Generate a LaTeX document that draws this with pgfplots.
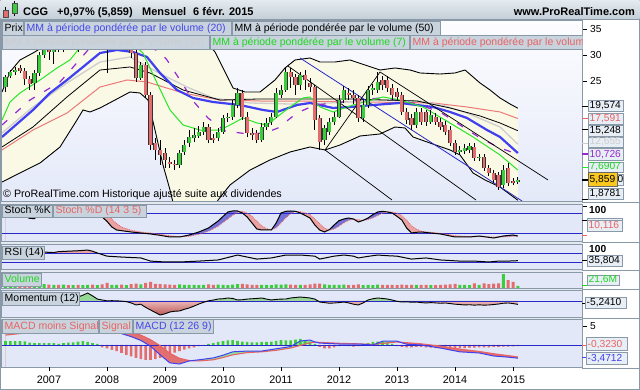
\documentclass[border=0pt]{standalone}
\usepackage{pgfplots}
\pgfplotsset{compat=1.18}
\usepackage{pgfplotstable}
\usepackage{fontspec}
\setmainfont{Liberation Sans}

\definecolor{cgreen}{RGB}{60,205,60}
\definecolor{cred}{RGB}{228,108,108}
\definecolor{bord}{RGB}{138,153,168}
\definecolor{tabfill}{RGB}{200,211,221}
\definecolor{gapfill}{RGB}{228,233,239}
\definecolor{panelbg}{RGB}{226,232,248}
\definecolor{maintop}{RGB}{253,253,255}
\definecolor{mainbot}{RGB}{228,233,249}
\definecolor{hdrtop}{RGB}{228,234,239}
\definecolor{hdrbot}{RGB}{196,207,216}
\definecolor{bbfill}{RGB}{249,249,230}
\definecolor{vblue}{RGB}{64,64,240}
\definecolor{vgray}{RGB}{205,205,205}
\definecolor{vred}{RGB}{236,120,120}
\definecolor{vgreen}{RGB}{40,230,40}
\definecolor{vpurple}{RGB}{150,40,210}
\definecolor{lineblue}{RGB}{40,40,200}
\definecolor{tabblue}{RGB}{70,70,235}
\definecolor{tabgreen}{RGB}{30,215,30}
\definecolor{tabred}{RGB}{232,100,100}
\definecolor{tabgray}{RGB}{205,205,205}
\definecolor{labbox}{RGB}{232,238,245}
\definecolor{yel}{RGB}{250,200,30}
\definecolor{stfillb}{RGB}{115,115,215}
\definecolor{stfillr}{RGB}{234,162,162}
\definecolor{mfillg}{RGB}{150,215,150}
\definecolor{mfillrt}{RGB}{236,182,182}
\definecolor{mfillrb}{RGB}{186,88,88}
\definecolor{macdg}{RGB}{140,225,160}
\definecolor{macdr}{RGB}{226,112,112}

\newcommand\tabf{\fontsize{10.5}{12}\selectfont}
\newcommand\labf{\fontsize{10.2}{12}\selectfont}
\newcommand\hdrf{\fontsize{11}{13}\selectfont\bfseries}
\newcommand\yrf{\fontsize{10.8}{13}\selectfont}

\newcommand\tab[6]{%
  \filldraw[fill=tabfill,draw=bord,line width=0.6pt] (#1,#2) rectangle (#3,#4);
  \node[anchor=base west,inner sep=0pt,text=#5,font=\tabf] at (#1+2.5,#2+3.6) {#6};}
\newcommand\lbox[6]{%
  \filldraw[fill=labbox,draw=bord,line width=0.6pt] (#1,#2) rectangle (#3,#4);
  \node[anchor=base west,inner sep=0pt,text=#5,font=\labf] at (#1+1.5,#2+2.2) {#6};}

\pgfplotsset{prt/.style={scale only axis, width=581pt, xmin=-9.931, xmax=110.276,
  anchor=south west, axis line style={draw=none}, xtick=\empty, ytick=\empty, clip=true,
  axis background/.style={fill=panelbg}}}

% monthly candles, m = months since Jan 2007 ; o h l c in EUR ; v volume (M)
\pgfplotstableread{
m o h l c v
-9 23.65 25.96 22.69 25.58 32
-8 25.77 26.92 25.38 26.54 30
-7 26.54 27.50 25.96 26.92 34
-3 24.42 26.92 23.08 26.35 38
-2 26.35 30.38 25.77 29.81 45
-1 29.81 31.73 29.23 31.15 42
1 30.38 32.12 28.08 31.54 33
3 30.96 32.69 30.38 31.92 36
5 31.35 33.08 30.77 32.31 32
7 31.73 33.46 31.15 32.69 30
8 32.69 34.04 31.92 33.27 34
10 32.50 34.23 31.92 33.46 31
13 31.54 33.08 30.77 32.31 35
14 32.31 33.65 31.15 32.88 33
16 31.92 33.27 31.15 32.69 32
19 25.38 28.46 25.00 27.88 40
27 8.65 11.54 8.08 10.96 38
28 11.15 13.46 10.58 12.50 35
29 12.88 15.38 12.12 14.04 33
30 13.85 15.77 13.08 14.42 34
31 14.23 16.15 13.85 15.00 32
32 15.00 16.92 14.42 15.96 35
35 13.85 15.77 13.27 15.00 36
36 15.00 18.27 14.62 17.69 34
37 17.69 18.65 16.92 17.88 31
38 17.88 21.15 17.31 20.19 37
39 20.19 23.46 19.62 22.50 42
44 13.46 16.73 13.08 15.96 35
45 15.96 17.69 15.38 16.73 33
46 16.92 18.65 16.35 17.88 32
47 17.88 23.46 17.69 22.50 38
48 22.12 24.04 21.54 23.08 36
49 23.08 27.31 22.69 26.54 40
52 24.04 26.54 23.08 25.96 35
57 13.46 16.35 12.50 15.77 40
58 15.00 17.69 14.42 16.92 35
59 16.92 18.85 16.35 17.88 33
60 17.88 22.12 17.69 21.15 34
61 21.15 23.85 20.58 23.08 36
65 17.69 21.15 16.92 20.19 32
66 20.19 23.85 19.62 23.08 35
67 23.08 24.23 22.12 23.46 31
68 23.08 26.54 22.50 24.62 37
76 16.35 19.62 15.77 18.85 33
79 16.92 19.23 16.54 18.27 32
85 11.15 12.31 10.77 11.54 35
86 11.35 12.69 10.77 11.92 33
87 11.54 12.88 10.96 12.31 31
89 10.00 10.77 9.42 10.19 34
94 4.81 8.65 4.23 7.69 151
97 5.38 6.35 5.00 5.86 21.6
}\up
\pgfplotstableread{
m o h l c v
-6 27.31 27.88 26.35 26.73 35
-5 26.73 27.31 24.04 25.19 38
-4 25.19 25.77 23.08 24.23 40
0 31.15 31.92 28.85 30.38 36
2 31.54 32.31 30.38 30.96 34
4 31.92 32.50 30.77 31.35 31
6 32.31 33.08 30.38 31.73 33
9 33.27 33.85 31.54 32.50 36
11 33.46 34.04 31.54 32.31 38
12 32.31 33.08 26.35 31.54 54
15 32.88 33.46 30.77 31.92 37
17 32.69 33.27 29.23 30.19 43
18 30.19 30.77 24.62 25.38 46
20 27.88 28.46 21.54 22.12 54
21 22.12 22.69 11.54 12.50 65
22 12.88 13.85 9.62 11.54 45
23 11.54 13.46 8.65 10.58 43
24 10.96 11.92 8.08 9.62 40
25 9.23 10.19 8.08 8.85 37
26 8.85 9.62 7.69 8.65 34
33 15.96 16.54 12.88 13.46 38
34 13.85 14.62 12.88 13.46 33
40 22.50 23.08 17.31 17.88 45
41 17.88 18.85 14.04 14.81 40
42 14.81 15.77 13.46 14.42 34
43 14.81 15.38 12.88 13.46 33
50 26.54 27.31 23.46 25.58 36
51 25.58 26.15 22.12 24.04 35
53 25.96 26.92 23.08 25.00 34
54 24.42 25.38 22.69 23.65 38
55 23.65 24.04 15.38 17.31 48
56 17.69 18.27 11.54 13.08 46
62 22.50 23.46 21.15 22.12 32
63 22.12 23.08 20.38 21.54 33
64 21.54 22.12 16.92 17.69 38
69 25.00 25.77 23.08 24.04 33
70 25.00 25.77 22.69 23.46 35
71 23.46 24.23 21.15 22.12 34
72 22.69 23.46 21.15 21.73 32
73 22.12 22.69 18.27 18.85 36
74 18.85 19.62 16.54 17.31 35
75 17.69 18.46 15.38 16.35 34
77 18.85 19.62 16.35 16.92 33
78 18.85 19.23 16.15 16.92 34
80 17.88 18.65 16.35 16.92 32
81 16.92 17.69 15.38 15.96 35
82 16.35 17.12 14.42 15.00 36
83 15.38 16.15 12.31 12.88 40
84 12.88 13.46 10.58 11.15 45
88 12.12 12.88 9.42 10.00 50
90 10.19 10.77 7.50 8.08 49
91 8.08 8.65 6.54 7.12 43
92 7.12 7.69 5.19 5.77 48
93 6.73 7.31 3.85 4.42 50
95 8.08 9.04 4.62 5.19 86
96 5.58 6.15 4.81 5.19 65
}\dn
\pgfplotstableread{
m k d
-9 75 70
-8 80 74
-7 83 79
-6 78 81
-5 70 77
-4 64 71
-3 63 66
-2 80 69
-1 88 77
0 90 86
1 91 89
2 92 91
3 92 91.5
4 93 92.2
5 94 93
6 93 92.5
7 95 93.5
8 95 94.6
9 92 94
10 85 91
11 68 85
12 55 75
13 38 62
14 29 48
15 27 38
17 23 28
19 20 23
21 17 20
23 13 16
25 8 12
27 8 9
29 14 10
31 23 16
33 35 25
35 56 40
37 83 62
38 86 73
39 86 82
40 80 85
41 68 80
42 50 70
43 32 55
44 29 42
45 29 33
46 29 30
47 50 35
48 80 50
49 85 65
50 86 78
51 85 84
52 80 84
54 65 76
55 44 62
56 29 48
57 23 35
58 30 28
59 44 32
60 57 40
61 62 50
62 65 58
63 62 61
64 53 60
65 58 57.5
66 65 60
67 75 65
68 83 72
69 85 80
70 83 83.5
71 80 83
72 70 80
73 59 72
74 35 58
75 20 42
76 22 32
77 23 25
79 20 22
81 17 19
84 8 12
87 8 9
89 11 9
92 5 8
94 11 8
96 14 10
97 11 10.116
}\stoch
\pgfplotstableread{
m r
-9 62
-7 66
-5 58
-3 60
-1 74
1 72
2 76
4 78
6 80
8 83
9 78
10 70
12 56
15 52
19 48
21 34
24 30
27 30
31 34
35 39
37 50
39 61
41 52
43 43
46 48
49 61
52 61
55 56
56 43
59 56
61 61
63 56
64 48
66 55
68 61
70 58
72 56
75 43
78 48
81 39
85 34
88 34
91 30
93 34
95 34
97 35.804
}\rsi
\pgfplotstableread{
m v
-9 4
-7 6
-5 3
-3 4
-1 7
1 6
3 5
5 6
6 6.2
7 9
8 12.5
9 8
10 3
11 1.6
12 0.2
13 0.5
14 0.3
15 -0.2
16 -1
17 -3
18 -6.2
19 -5
20 -10
21 -14
22 -18
23 -21.9
24 -20
25 -17.2
26 -16
27 -15.6
28 -13
29 -10.9
30 -8
31 -4.7
32 -2
33 0.3
34 1.5
35 3.1
36 3.5
37 4.7
38 4
39 1.6
40 2
41 3
42 3.5
43 4
44 4.7
45 3
46 1.6
47 2.5
48 3
49 3.1
50 4.7
51 5.5
52 6.2
53 5.5
54 4.7
55 3
56 -1.6
57 -2.5
58 -3.5
59 -3.1
60 -2.5
61 -1.6
62 -3
63 -5
64 -6.2
65 -3
66 1.6
67 3.5
68 4.7
69 4
70 3.1
71 1.5
72 -0.5
73 -1.6
74 -1.2
75 -2
76 -1.6
77 -2.5
78 -3.1
79 -2.5
80 -3
81 -3.5
82 -3.1
83 -4
84 -5
85 -5.5
86 -6.2
87 -5.8
88 -6.5
89 -6
90 -6.5
91 -6.2
92 -5.5
93 -4.7
94 -3.5
95 -3.1
96 -4
97 -5.241
}\mom
\pgfplotstableread{
m macd sig
-9 3.0 2.6
-6 3.4 3.0
-3 3.8 3.4
0 4.2 3.8
3 4.5 4.1
6 4.7 4.4
9 4.6 4.5
12 4.0 4.4
15 3.0 3.9
17 2.2 3.4
19 1.2 2.6
21 -0.3 1.4
23 -2.6 -0.2
25 -4.7 -2.2
27 -5.0 -3.5
29 -4.2 -4.1
31 -3.9 -4.2
34 -3.4 -3.9
36 -2.7 -3.3
38 -1.8 -2.6
41 -1.6 -2.0
44 -1.6 -1.8
47 -1.0 -1.4
50 -0.4 -0.8
52 1.05 -0.1
54 1.3 0.6
55 0.8 0.75
56 0.5 0.7
60 0.26 0.45
64 0.26 0.3
67 0.0 0.15
69 1.0 0.4
72 1.0 0.8
74 0.2 0.6
77 0.0 0.3
81 -0.8 -0.3
85 -1.8 -1.1
89 -2.1 -1.7
92 -2.9 -2.3
95 -3.2 -2.8
97 -3.4712 -3.1482
}\macd
\pgfplotstableread{
m h
-9 1.0
-8 1.05
-7 1.0
-6 1.0
-5 0.95
-4 0.6
-3 0.5
-2 0.5
-1 0.5
0 0.5
1 0.5
2 0.3
3 0.5
4 0.6
5 0.7
6 0.9
7 1.05
8 0.8
9 0.5
10 0.3
11 -0.6
12 -0.9
13 -1.3
14 -1.6
15 -2.1
16 -2.6
17 -3.0
18 -3.4
19 -3.7
20 -3.9
21 -3.9
22 -3.7
23 -3.4
24 -2.9
25 -2.4
26 -2.0
27 -1.6
28 -1.2
29 -0.9
30 -0.6
31 -0.3
32 -0.1
33 0.3
34 0.5
35 0.8
36 1.0
37 1.2
38 1.3
39 1.1
40 0.9
41 0.8
42 0.7
43 0.7
44 0.8
45 0.8
46 0.9
47 1.1
48 1.3
49 1.2
50 1.2
51 1.4
52 1.6
53 1.2
54 0.8
55 0.3
56 -0.5
57 -0.9
58 -0.9
59 -0.6
60 -0.3
61 -0.2
62 -0.3
63 -0.4
64 -0.3
65 0.2
66 0.5
67 0.8
68 0.9
69 0.9
70 0.7
71 0.3
72 -0.3
73 -0.5
74 -0.6
75 -0.6
76 -0.5
77 -0.5
78 -0.6
79 -0.7
80 -0.8
81 -0.9
82 -1.0
83 -1.0
84 -1.0
85 -0.9
86 -0.8
87 -0.7
88 -0.7
89 -0.6
90 -0.6
91 -0.6
92 -0.5
93 -0.5
94 -0.4
95 -0.4
96 -0.35
97 -0.323
}\hist

\begin{document}
\begin{tikzpicture}[x=1pt,y=1pt]
\fill[white] (0,0) rectangle (640,390);
\fill[gapfill] (0,23) rectangle (582,371);

% ---------------- main price panel
\begin{axis}[prt, at={(1pt,189pt)}, height=181pt, ymin=1.731, ymax=36.538,
  axis background/.style={top color=maintop, bottom color=mainbot}]
% Bollinger band area (upper band, then lower band backwards)
\addplot[fill=bbfill, draw=none] coordinates {(-9.72,22.69) (-8.07,26.54) (-6.0,28.85) (-3.31,30.19) (-1.24,31.35) (1.24,32.69) (4.35,33.85) (8.48,35.0) (12.62,35.58) (16.76,35.77) (20.9,35.77) (24.0,35.58) (27.1,35.0) (30.2,34.04) (32.28,32.69) (34.35,30.38) (36.42,26.54) (38.07,23.46) (40.55,22.69) (43.66,22.69) (46.76,25.0) (48.83,27.31) (50.9,28.85) (54.0,29.23) (56.07,28.46) (59.18,28.46) (62.28,28.85) (65.38,27.88) (68.49,26.92) (71.59,27.31) (74.7,26.92) (76.76,26.35) (80.9,26.15) (84.0,26.35) (86.08,26.92) (89.18,24.42) (91.25,23.08) (93.32,21.54) (95.39,20.38) (97,19.574)
 (97,1.8781) (93.32,4.42) (90.21,5.77) (87.73,7.12) (85.04,10.58) (82.97,11.54) (78.83,12.88) (75.32,14.04) (73.66,15.77) (71.59,15.96) (68.49,14.62) (64.35,14.23) (60.21,12.5) (57.11,11.54) (54.0,12.12) (49.87,11.15) (45.73,9.62) (41.59,7.69) (37.45,4.81) (34.97,1.92) (33.73,-0.96) (31.24,-5.77) (30.2,-7.3) (28.14,-5.77) (26.28,-0.96) (25.04,3.85) (23.59,8.65) (21.93,15.38) (20.48,21.15) (18.83,22.5) (16.76,22.69) (13.66,21.15) (10.55,19.62) (8.48,18.85) (7.03,19.23) (5.79,17.31) (2.28,12.12) (-1.86,9.04) (-6.0,7.12) (-9.72,5.38)} -- cycle;
% volume weighted moving averages
\addplot[vred, line width=1pt] coordinates {(-9.72,11.54) (-3.31,15.38) (3.72,18.65) (10.55,23.65) (16.14,25.0) (20.28,24.62) (27.73,22.5) (35.38,21.15) (43.66,20.96) (51.93,20.96) (65.8,20.77) (79.45,20.58) (86.49,19.81) (93.32,18.85) (97,17.591)};
\addplot[vgray, line width=1.3pt] coordinates {(-9.72,14.81) (-3.31,19.81) (3.72,24.42) (10.55,28.46) (16.76,29.42) (22.35,26.54) (28.55,23.65) (33.93,21.54) (41.59,20.58) (49.87,20.38) (58.14,20.58) (68.49,21.15) (76.76,20.96) (81.94,20.0) (86.49,18.65) (93.32,15.96) (97,12.655)};
\addplot[black, line width=0.8pt] coordinates {(-9.72,12.12) (-3.31,15.96) (3.72,21.73) (10.55,26.92) (16.76,27.5) (20.9,26.35) (27.73,23.08) (35.38,21.15) (43.66,21.35) (51.93,21.35) (62.28,21.35) (76.14,20.96) (82.97,19.62) (89.18,18.08) (93.32,16.73) (97,15.248)};
\addplot[vblue, line width=2.2pt] coordinates {(-9.72,14.04) (-3.31,19.23) (0.21,22.5) (3.72,25.0) (7.03,27.5) (10.55,30.19) (14.07,30.77) (17.38,30.38) (20.28,29.42) (22.97,26.35) (26.48,23.08) (29.79,21.54) (33.93,20.77) (39.52,20.19) (44.28,19.23) (47.18,18.85) (51.31,20.19) (54.0,20.58) (58.76,19.62) (62.28,19.81) (67.04,20.19) (72.63,20.58) (79.45,19.81) (82.97,18.85) (86.49,17.69) (90.63,15.38) (93.32,14.04) (97,10.96)};
\addplot[vpurple, line width=1.2pt, dash pattern=on 7pt off 11pt] coordinates {(-9.72,16.35) (-3.93,21.15) (2.28,24.62) (5.38,27.88) (8.07,30.77) (11.59,32.31) (15.73,32.69) (19.86,31.73) (22.97,30.38) (24.42,28.85) (27.1,25.0) (30.0,20.77) (32.9,17.69) (36.42,15.19) (41.18,14.62) (44.69,14.81) (47.38,15.77) (51.31,18.65) (55.04,20.19) (59.18,20.58) (64.35,21.15) (68.49,21.54) (72.63,21.15) (76.76,20.19) (80.9,18.85) (85.04,16.35) (89.18,13.85) (93.32,11.92) (97,10.726)};
\addplot[vgreen, line width=1pt] coordinates {(-9.72,17.31) (-8.07,20.77) (-6.0,22.5) (-1.86,25.0) (1.66,27.31) (4.35,28.85) (6.0,30.77) (8.48,31.92) (12.62,32.69) (16.76,32.31) (19.45,30.19) (22.35,24.42) (25.04,19.23) (27.73,16.35) (31.24,15.38) (35.38,15.38) (37.45,16.35) (40.14,17.69) (43.04,16.73) (45.11,16.35) (47.18,17.88) (49.87,19.81) (52.56,21.54) (54.0,21.73) (56.07,19.81) (58.76,18.85) (62.9,20.19) (69.11,21.73) (72.63,21.15) (77.38,19.81) (82.97,16.73) (87.73,14.04) (93.32,10.58) (97,7.6907)};
% Bollinger lines
\addplot[black, line width=0.9pt] coordinates {(-9.72,22.69) (-8.07,26.54) (-6.0,28.85) (-3.31,30.19) (-1.24,31.35) (1.24,32.69) (4.35,33.85) (8.48,35.0) (12.62,35.58) (16.76,35.77) (20.9,35.77) (24.0,35.58) (27.1,35.0) (30.2,34.04) (32.28,32.69) (34.35,30.38) (36.42,26.54) (38.07,23.46) (40.55,22.69) (43.66,22.69) (46.76,25.0) (48.83,27.31) (50.9,28.85) (54.0,29.23) (56.07,28.46) (59.18,28.46) (62.28,28.85) (65.38,27.88) (68.49,26.92) (71.59,27.31) (74.7,26.92) (76.76,26.35) (80.9,26.15) (84.0,26.35) (86.08,26.92) (89.18,24.42) (91.25,23.08) (93.32,21.54) (95.39,20.38) (97,19.574)};
\addplot[black, line width=0.9pt] coordinates {(-9.72,5.38) (-6.0,7.12) (-1.86,9.04) (2.28,12.12) (5.79,17.31) (7.03,19.23) (8.48,18.85) (10.55,19.62) (13.66,21.15) (16.76,22.69) (18.83,22.5) (20.48,21.15) (21.93,15.38) (23.59,8.65) (25.04,3.85) (26.28,-0.96) (28.14,-5.77) (30.2,-7.3) (31.24,-5.77) (33.73,-0.96) (34.97,1.92) (37.45,4.81) (41.59,7.69) (45.73,9.62) (49.87,11.15) (54.0,12.12) (57.11,11.54) (60.21,12.5) (64.35,14.23) (68.49,14.62) (71.59,15.96) (73.66,15.77) (75.32,14.04) (78.83,12.88) (82.97,11.54) (85.04,10.58) (87.73,7.12) (90.21,5.77) (93.32,4.42) (97,1.8781)};
% trend lines
\addplot[lineblue, line width=0.8pt] coordinates {(51.93,29.23) (97.87,1.73)};
\addplot[black, line width=0.7pt] coordinates {(49.45,27.69) (88.35,1.92)};
\addplot[black, line width=0.7pt] coordinates {(57.11,11.54) (68.49,26.54) (103.25,5.77)};
\addplot[black, line width=0.7pt] coordinates {(57.11,11.54) (70.97,1.92)};
% candles: wicks
\addplot[draw=none, mark=none, forget plot, error bars/.cd, y dir=plus, y explicit, error mark=none,
  error bar style={draw=black, solid, line width=0.8pt}] table[x=m, y=l, y error plus expr=\thisrow{h}-\thisrow{l}] {\up};
\addplot[draw=none, mark=none, forget plot, error bars/.cd, y dir=plus, y explicit, error mark=none,
  error bar style={draw=black, solid, line width=0.8pt}] table[x=m, y=l, y error plus expr=\thisrow{h}-\thisrow{l}] {\dn};
% bodies
\addplot[draw=none, mark=none, forget plot, error bars/.cd, y dir=plus, y explicit, error mark=none,
  error bar style={draw=black!80, solid, line width=4.2pt}] table[x=m, y=o, y error plus expr=\thisrow{c}-\thisrow{o}] {\up};
\addplot[draw=none, mark=none, forget plot, error bars/.cd, y dir=plus, y explicit, error mark=none,
  error bar style={draw=cgreen, solid, line width=2.8pt}] table[x=m, y=o, y error plus expr=\thisrow{c}-\thisrow{o}] {\up};
\addplot[draw=none, mark=none, forget plot, error bars/.cd, y dir=plus, y explicit, error mark=none,
  error bar style={draw=black!80, solid, line width=4.2pt}] table[x=m, y=c, y error plus expr=\thisrow{o}-\thisrow{c}] {\dn};
\addplot[draw=none, mark=none, forget plot, error bars/.cd, y dir=plus, y explicit, error mark=none,
  error bar style={draw=cred, solid, line width=2.8pt}] table[x=m, y=c, y error plus expr=\thisrow{o}-\thisrow{c}] {\dn};
\end{axis}

% ---------------- stochastic
\begin{axis}[prt, at={(1pt,149pt)}, height=37pt, ymin=-4, ymax=107]
\addplot[fill=stfillb, draw=none] table[x=m,y=k]{\stoch} -- (97,-10) -- (-9,-10) -- cycle;
\addplot[fill=stfillr, draw=none] table[x=m,y=d]{\stoch} -- (97,-10) -- (-9,-10) -- cycle;
\addplot[fill=panelbg, draw=none] table[x=m,y expr={min(\thisrow{k},\thisrow{d})}]{\stoch} -- (97,-10) -- (-9,-10) -- cycle;
\addplot[lineblue, line width=0.8pt] coordinates {(-10,80)(111,80)};
\addplot[lineblue, line width=0.8pt] coordinates {(-10,20)(111,20)};
\addplot[tabred, line width=0.8pt, densely dotted] table[x=m,y=d]{\stoch};
\addplot[black, line width=1pt] table[x=m,y=k]{\stoch};
\end{axis}

% ---------------- RSI
\begin{axis}[prt, at={(1pt,121pt)}, height=25pt, ymin=-1.1, ymax=110]
\addplot[fill=stfillr, draw=none] coordinates {(-1.57,70) (-1,74) (1,72) (2,76) (4,78) (6,80) (8,83) (9,78) (10,70)} -- cycle;
\addplot[lineblue, line width=0.8pt] coordinates {(-10,70)(111,70)};
\addplot[lineblue, line width=0.8pt] coordinates {(-10,30)(111,30)};
\addplot[black, line width=1pt] table[x=m,y=r]{\rsi};
\end{axis}

% ---------------- volume
\begin{axis}[prt, at={(1pt,102pt)}, height=16pt, ymin=0, ymax=172.8]
\addplot[ybar, bar width=3pt, bar shift=0pt, fill=cgreen, draw=none] table[x=m,y=v]{\up};
\addplot[ybar, bar width=3pt, bar shift=0pt, fill=cred, draw=none] table[x=m,y=v]{\dn};
\end{axis}

% ---------------- momentum
\begin{axis}[prt, at={(1pt,73pt)}, height=27pt, ymin=-25, ymax=17.19]
\addplot[fill=mfillg, draw=none] table[x=m,y expr={max(\thisrow{v},0)}]{\mom} -- (97,0) -- (-9,0) -- cycle;
\addplot[top color=mfillrt, bottom color=mfillrb, draw=none] table[x=m,y expr={min(\thisrow{v},0)}]{\mom} -- (97,0) -- (-9,0) -- cycle;
\addplot[lineblue, line width=0.8pt] coordinates {(-10,0)(111,0)};
\addplot[black, line width=0.9pt] table[x=m,y=v]{\mom};
\end{axis}

% ---------------- MACD
\begin{axis}[prt, at={(1pt,23pt)}, height=48pt, ymin=-5.79, ymax=6.84]
\addplot[fill=macdg, draw=none] table[x=m,y=macd]{\macd} -- (97,-10) -- (-9,-10) -- cycle;
\addplot[fill=macdr, draw=none] table[x=m,y=sig]{\macd} -- (97,-10) -- (-9,-10) -- cycle;
\addplot[fill=panelbg, draw=none] table[x=m,y expr={min(\thisrow{macd},\thisrow{sig})}]{\macd} -- (97,-10) -- (-9,-10) -- cycle;
\addplot[ybar, bar width=2.6pt, bar shift=0pt, fill=cgreen, draw=none, restrict y to domain=0:20] table[x=m,y=h]{\hist};
\addplot[ybar, bar width=2.6pt, bar shift=0pt, fill=cred, draw=none, restrict y to domain=-20:0] table[x=m,y=h]{\hist};
\addplot[lineblue, line width=0.8pt] coordinates {(-10,0)(111,0)};
\addplot[tabred, line width=1.1pt] table[x=m,y=sig]{\macd};
\addplot[vblue, line width=1pt] table[x=m,y=macd]{\macd};
\end{axis}

% ---------------- frames
\begin{scope}[draw=bord, line width=0.8pt]
\draw (1,189) rectangle (582,370);
\draw (1,149) rectangle (582,186);
\draw (1,121) rectangle (582,146);
\draw (1,102) rectangle (582,118);
\draw (1,73) rectangle (582,100);
\draw (1,23) rectangle (582,71);
\draw (582,187.5) -- (640,187.5);
\draw (582,147.5) -- (640,147.5);
\draw (582,119.5) -- (640,119.5);
\draw (582,101) -- (640,101);
\draw (582,72) -- (640,72);
\draw (582,22) -- (640,22);
\draw (0.4,0.4) rectangle (639.6,389.6);
\end{scope}

% ---------------- header
\shade[top color=hdrtop, bottom color=hdrbot] (0.5,371) rectangle (639.5,389.5);
\draw[bord, line width=0.8pt] (0,371) -- (640,371);
\draw[black] (5.5,371.5) -- (5.5,383);
\filldraw[fill=cred, draw=black!70] (3,373) rectangle (8,380);
\draw[black] (14.5,374) -- (14.5,388.5);
\filldraw[fill=cgreen, draw=black!70] (12,377) rectangle (17,387);
\node[anchor=base west, inner sep=0pt, font=\hdrf] at (23,374) {CGG};
\node[anchor=base west, inner sep=0pt, font=\hdrf] at (57,374) {+0,97\% (5,859)};
\node[anchor=base west, inner sep=0pt, font=\hdrf] at (142,374) {Mensuel};
\node[anchor=base west, inner sep=0pt, font=\hdrf] at (193,374) {6 févr. 2015};
\node[anchor=base east, inner sep=0pt, font=\hdrf] at (635,374) {www.ProRealTime.com};

% ---------------- legend tabs
\tab{2}{355}{23}{369}{black}{Prix}
\tab{24}{355}{231}{369}{tabblue}{MM à période pondérée par le volume (20)}
\tab{232}{355}{440}{369}{black}{MM à période pondérée par le volume (50)}
\tab{2}{341}{209}{355}{tabgray}{MM à période pondérée par le volume (30)}
\tab{210}{341}{409}{355}{tabgreen}{MM à période pondérée par le volume (7)}
\begin{scope}
\clip (409,340) rectangle (582.5,356);
\tab{410}{341}{600}{355}{tabred}{MM à période pondérée par le volume (100)}
\end{scope}
\tab{2}{173}{52}{185}{black}{Stoch \%K}
\tab{53}{173}{146}{185}{tabred}{Stoch \%D (14 3 5)}
\tab{2}{131}{44}{144}{black}{RSI (14)}
\tab{2}{104}{41}{117}{tabgreen}{Volume}
\tab{2}{85}{79}{98}{black}{Momentum (12)}
\tab{2}{57}{98}{71}{tabred}{MACD moins Signal}
\tab{99}{57}{132}{71}{tabred}{Signal}
\tab{133}{57}{213}{71}{tabblue}{MACD (12 26 9)}

\node[anchor=base west, inner sep=0pt, font=\fontsize{10.7}{12}\selectfont] at (3,192) {© ProRealTime.com Historique ajusté suite aux dividendes};

% ---------------- right scale, main
\foreach \yy/\tt in {357.4/35, 331.4/30, 305.4/25}{
  \draw[black, line width=0.7pt] (583,\yy+3.6) -- (587,\yy+3.6);
  \node[anchor=base west, inner sep=0pt, font=\labf] at (590,\yy) {\tt};}
\draw[black, line width=1pt] (582,283) -- (588,283);
\draw[tabred, line width=1pt] (582,271.5) -- (588,271.5);
\draw[black, line width=1pt] (582,260) -- (588,260);
\draw[tabgray, line width=1pt] (582,246) -- (588,246);
\draw[vpurple, line width=2pt] (582,236) -- (588,236);
\draw[vgreen, line width=1pt] (582,222) -- (588,222);
\draw[black, line width=1.5pt] (582,210) -- (588,210);
\draw[black, line width=1pt] (582,190) -- (588,190);
\lbox{588}{279}{623}{290}{black}{19,574}
\lbox{588}{266}{623}{277}{tabred}{17,591}
\lbox{588}{254}{623}{265}{black}{15,248}
\lbox{588}{243}{623}{253}{tabgray}{12,655}
\lbox{588}{230}{623}{242}{vpurple}{10,726}
\lbox{588}{218}{623}{228}{tabgreen}{7,6907}
\filldraw[fill=labbox, draw=bord, line width=0.6pt] (588,205) rectangle (623,216);
\node[anchor=base west, inner sep=0pt, font=\labf] at (617.3,207.2) {0};
\filldraw[fill=yel, draw=black!60, line width=0.6pt] (588,204) rectangle (617,218);
\node[anchor=base west, inner sep=0pt, font=\labf] at (589.5,207.3) {5,859};
\lbox{588}{191}{623}{202}{black}{1,8781}

% ---------------- right scale, indicators
\draw[black, line width=0.7pt] (583,184) -- (587,184);
\node[anchor=base west, inner sep=0pt, font=\labf\bfseries] at (589,176) {100};
\draw[black, line width=1pt] (582,169) -- (587,169);
\filldraw[fill=labbox, draw=bord, line width=0.6pt] (587,161) rectangle (622,172);
\draw[tabred, line width=1pt] (582,154) -- (587,154);
\lbox{587}{159}{622}{170}{tabred}{10,116}
\node[anchor=base west, inner sep=0pt, font=\labf\bfseries] at (589,137.5) {100};
\draw[black, line width=1pt] (582,129) -- (587,129);
\lbox{587}{124}{622}{135}{black}{35,804}
\draw[tabgreen, line width=1pt] (582,104) -- (587,104);
\lbox{587}{105}{619}{115}{tabgreen}{21,6M}
\draw[black, line width=1pt] (582,86) -- (586,86);
\lbox{585}{82}{626}{93}{black}{-5,2410}
\draw[black, line width=0.7pt] (583,64) -- (587,64);
\node[anchor=base west, inner sep=0pt, font=\labf] at (590,60.4) {5};
\draw[tabred, line width=1pt] (582,44) -- (586,44);
\lbox{586}{40}{627}{53}{tabred}{-0,3230}
\draw[vblue, line width=1pt] (582,32) -- (586,32);
\lbox{586}{26}{627}{38}{vblue}{-3,4712}

% ---------------- years
\foreach \xx/\yr in {49/2007,107/2008,165/2009,223/2010,281/2011,339/2012,397/2013,455/2014,513/2015}{
  \draw[black, line width=0.7pt] (\xx,19) -- (\xx,23);
  \node[anchor=base, inner sep=0pt, font=\yrf] at (\xx,6.4) {\yr};}
\pgfresetboundingbox
\useasboundingbox (0,0) rectangle (640,390);
\end{tikzpicture}
\end{document}
